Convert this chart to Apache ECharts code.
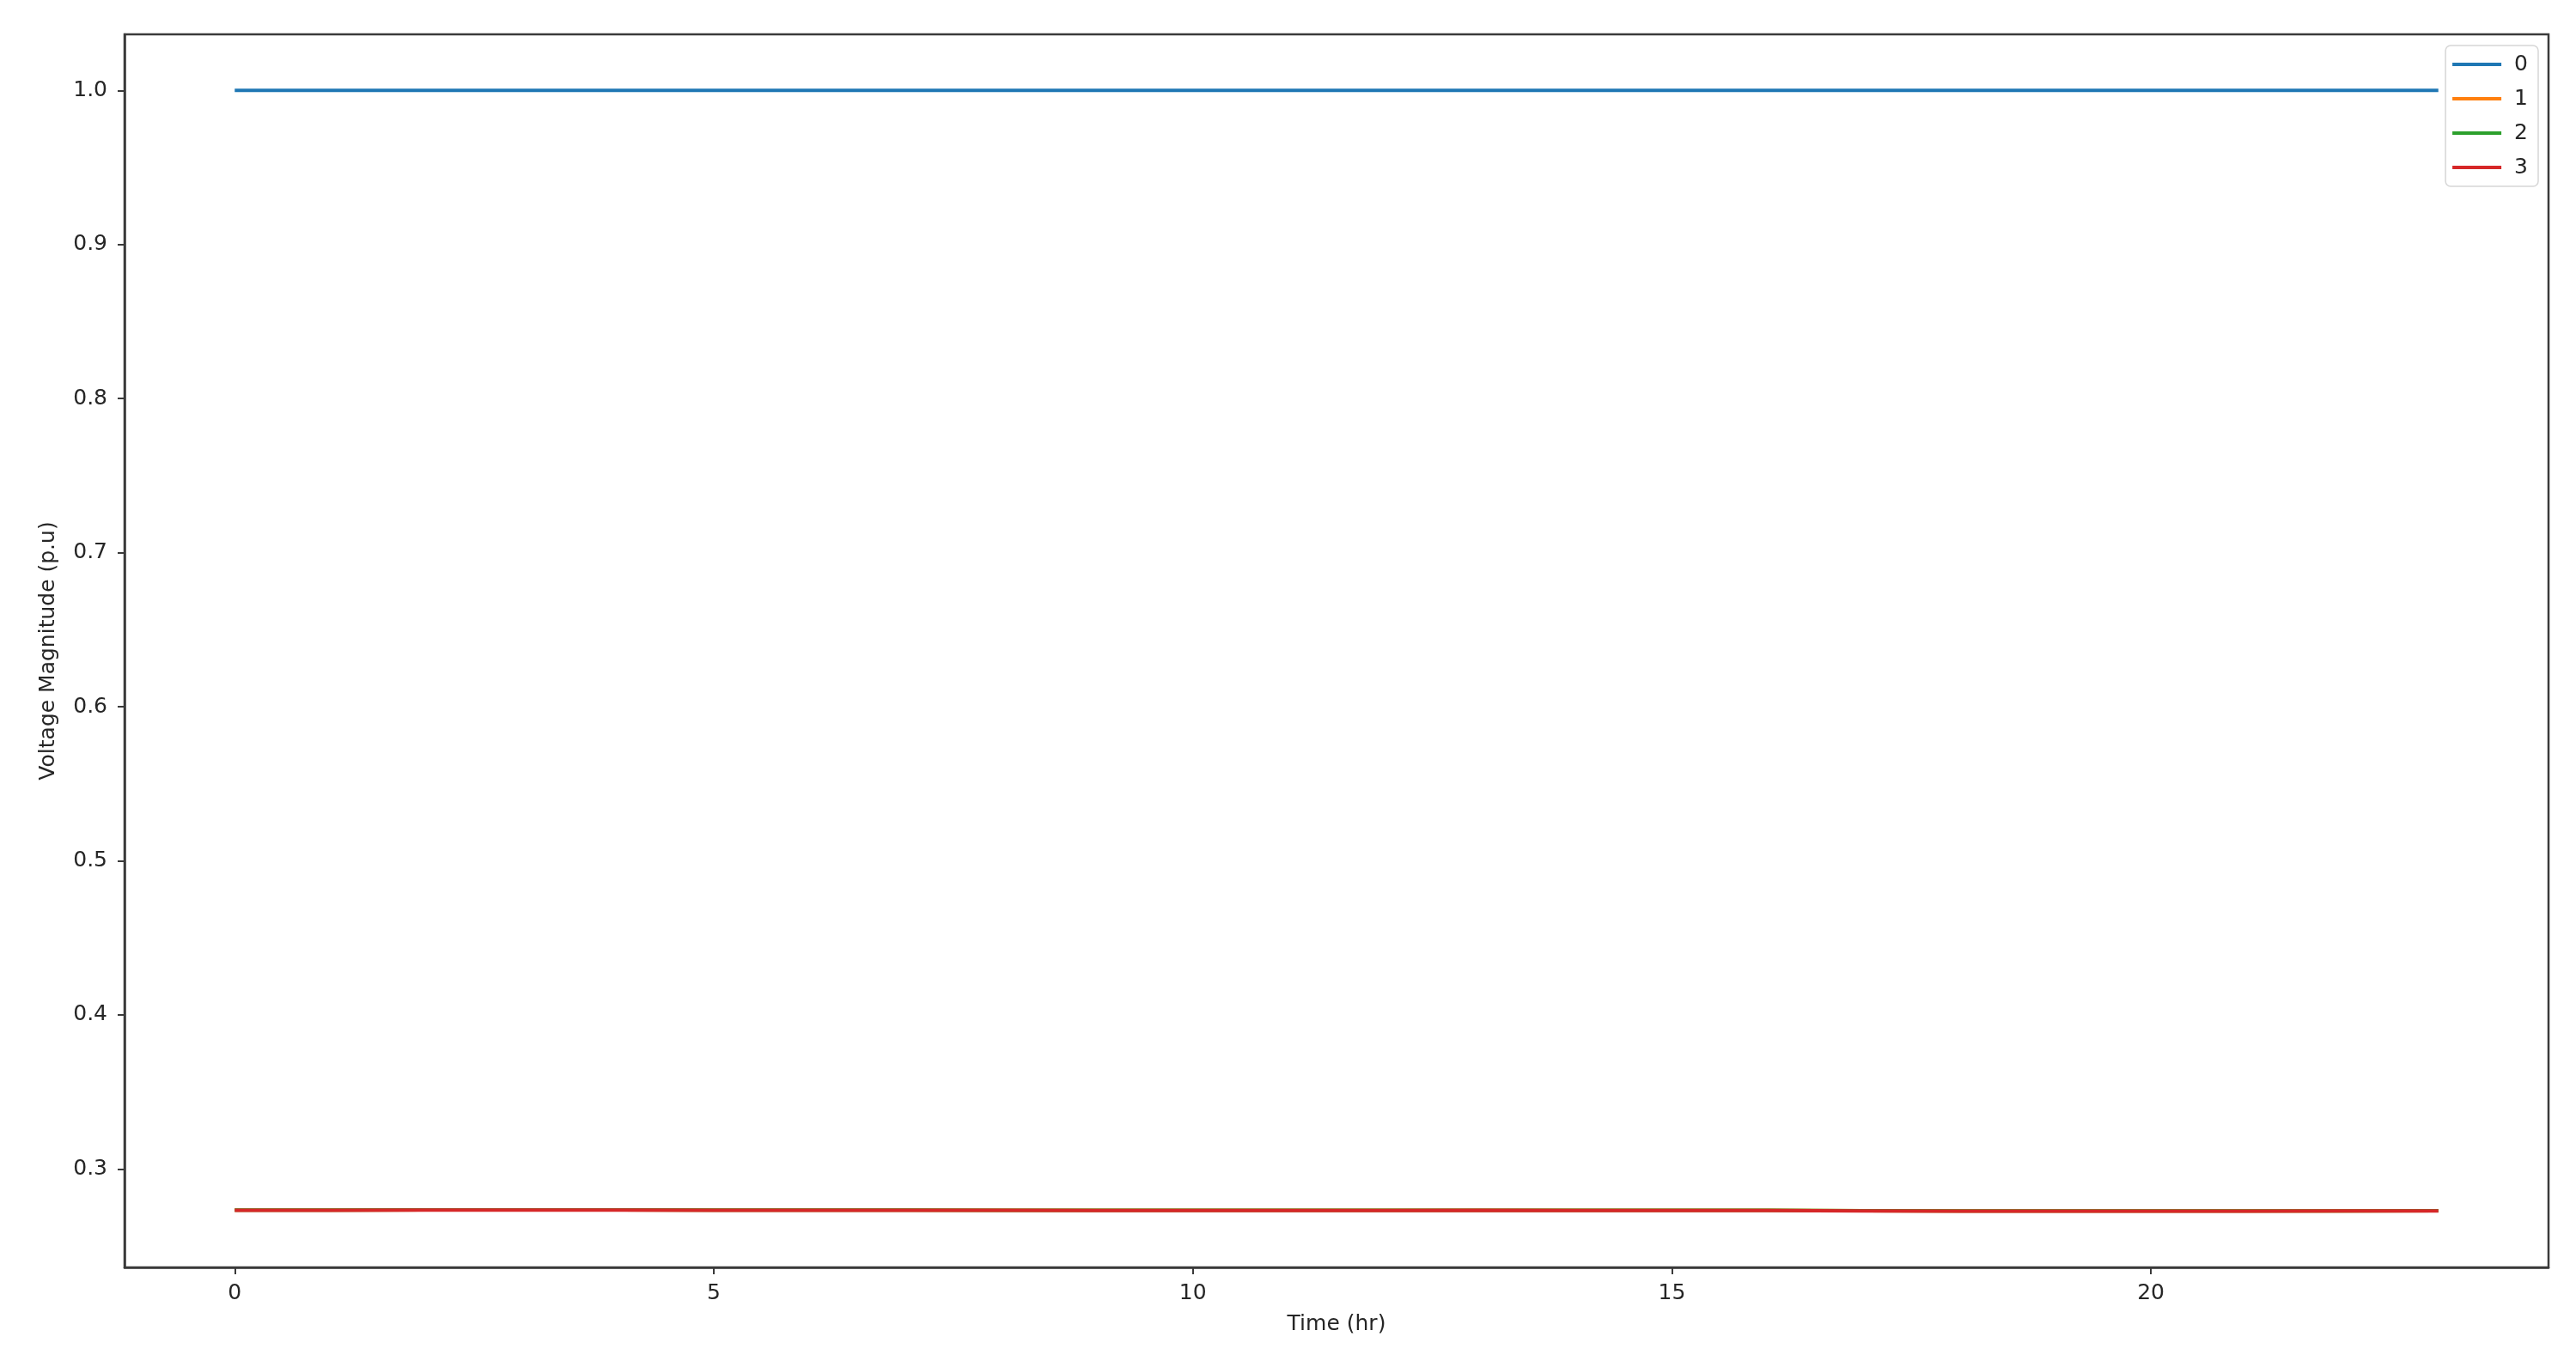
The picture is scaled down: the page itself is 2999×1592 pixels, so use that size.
<!DOCTYPE html>
<html>
<head>
<meta charset="utf-8">
<style>
  html, body { margin: 0; padding: 0; background: #fff; }
  #chart { width: 2999px; height: 1592px; }
</style>
<script src="https://cdn.jsdelivr.net/npm/echarts@6/dist/echarts.min.js"></script>
</head>
<body>
<div id="chart"></div>
<script>
// ---- data ----
const hours = [0,1,2,3,4,5,6,7,8,9,10,11,12,13,14,15,16,17,18,19,20,21,22,23];
const seriesNames = ['0', '1', '2', '3'];
const bus0 = [1.0,1.0,1.0,1.0,1.0,1.0,1.0,1.0,1.0,1.0,1.0,1.0,1.0,1.0,1.0,1.0,1.0,1.0,1.0,1.0,1.0,1.0,1.0,1.0];
const bus1 = [0.2733,0.2733,0.2734,0.2734,0.2734,0.2733,0.2733,0.2733,0.2732,0.2731,0.2731,0.2731,0.2731,0.2732,0.2731,0.2731,0.2731,0.2729,0.2727,0.2727,0.2727,0.2727,0.2728,0.2729];
const bus2 = [0.2733,0.2733,0.2734,0.2734,0.2734,0.2733,0.2733,0.2733,0.2732,0.2731,0.2731,0.2731,0.2731,0.2732,0.2731,0.2731,0.2731,0.2729,0.2727,0.2727,0.2727,0.2727,0.2728,0.2729];
const bus3 = [0.2732,0.2732,0.2733,0.2733,0.2733,0.2732,0.2732,0.2732,0.2731,0.2730,0.2730,0.2730,0.2730,0.2731,0.2730,0.2730,0.2730,0.2728,0.2726,0.2726,0.2726,0.2726,0.2727,0.2728];
const xTicks = [0, 5, 10, 15, 20];
const yTicks = [0.3, 0.4, 0.5, 0.6, 0.7, 0.8, 0.9, 1.0];

const colors = ['#1f77b4', '#ff7f0e', '#2ca02c', '#d62728'];
const allData = [bus0, bus1, bus2, bus3];

const chart = echarts.init(document.getElementById('chart'), null, { renderer: 'canvas' });
const font = 'DejaVu Sans';
const textColor = '#262626';

const option = {
  animation: false,
  backgroundColor: '#ffffff',
  color: colors,
  grid: {
    left: 145, top: 40, right: 32, bottom: 116,
    show: true, borderColor: '#3a3a3a', borderWidth: 2.5, backgroundColor: 'transparent'
  },
  legend: {
    orient: 'vertical',
    right: 44, top: 53,
    data: seriesNames,
    icon: 'rect',
    itemWidth: 57, itemHeight: 4,
    itemGap: 14,
    padding: [9, 12, 9, 8],
    borderColor: '#d6d6d6', borderWidth: 1.5, borderRadius: 6,
    backgroundColor: 'rgba(255,255,255,0.8)',
    textStyle: { fontFamily: font, fontSize: 25, color: textColor, lineHeight: 26, padding: [0, 0, 0, 10] }
  },
  xAxis: {
    type: 'value',
    min: -1.15, max: 24.15,
    name: 'Time (hr)', nameLocation: 'middle', nameGap: 54,
    nameTextStyle: { fontFamily: font, fontSize: 25, color: textColor },
    axisLine: { show: true, onZero: false, lineStyle: { color: '#3a3a3a', width: 2.5 } },
    axisTick: { show: true, customValues: xTicks, length: 8, lineStyle: { color: '#3a3a3a', width: 2 } },
    axisLabel: { customValues: xTicks, margin: 18, fontFamily: font, fontSize: 25, color: textColor },
    splitLine: { show: false }
  },
  yAxis: {
    type: 'value',
    min: 0.2361, max: 1.0364,
    name: 'Voltage Magnitude (p.u)', nameLocation: 'middle', nameGap: 76, nameRotate: 90,
    nameTextStyle: { fontFamily: font, fontSize: 25, color: textColor },
    axisLine: { show: true, onZero: false, lineStyle: { color: '#3a3a3a', width: 2.5 } },
    axisTick: { show: true, customValues: yTicks, length: 8, lineStyle: { color: '#3a3a3a', width: 2 } },
    axisLabel: { customValues: yTicks, margin: 20, fontFamily: font, fontSize: 25, color: textColor,
      formatter: v => v.toFixed(1) },
    splitLine: { show: false }
  },
  series: allData.map((arr, i) => ({
    name: seriesNames[i],
    type: 'line',
    data: hours.map((h, k) => [h, arr[k]]),
    showSymbol: false,
    symbol: 'none',
    lineStyle: { width: 4, color: colors[i] },
    itemStyle: { color: colors[i] },
    z: 2 + i
  }))
};
chart.setOption(option);
</script>
</body>
</html>
